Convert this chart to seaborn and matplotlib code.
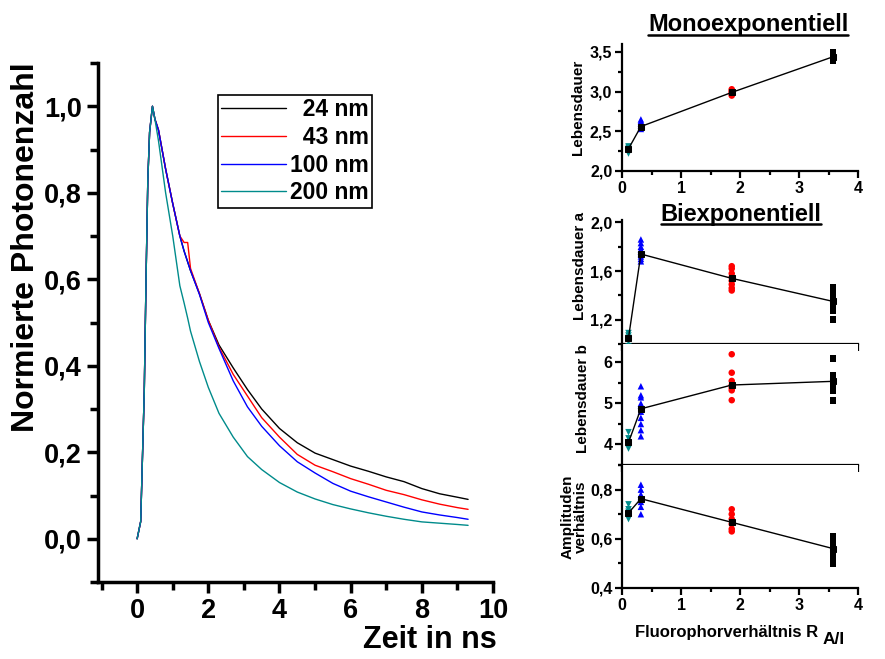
import numpy as np
import pandas as pd
import matplotlib
matplotlib.use('Agg')
import matplotlib.pyplot as plt
import seaborn as sns
from matplotlib.ticker import MultipleLocator, FuncFormatter
from matplotlib.lines import Line2D

sns.set_theme(style='ticks')
plt.rcParams['font.family'] = ['Liberation Sans', 'DejaVu Sans']
plt.rcParams['font.weight'] = 'bold'
plt.rcParams['axes.edgecolor'] = 'black'
plt.rcParams['xtick.color'] = 'black'
plt.rcParams['ytick.color'] = 'black'
plt.rcParams['text.color'] = 'black'
plt.rcParams['axes.labelcolor'] = 'black'

# ---------------- data: decay curves ----------------
time_ns = [0, 0.1, 0.2, 0.25, 0.3, 0.35, 0.43, 0.5, 0.6, 0.8, 1.0, 1.2, 1.32, 1.42,
           1.5, 1.75, 2.0, 2.3, 2.7, 3.1, 3.5, 4.0, 4.5, 5.0, 5.5, 6.0, 6.5, 7.0,
           7.5, 8.0, 8.5, 9.0, 9.3]
curve_24nm = [0, 0.04, 0.34, 0.60, 0.83, 0.94, 1.0, 0.97, 0.945, 0.855, 0.775, 0.70, 0.665, 0.64,
              0.62, 0.567, 0.505, 0.448, 0.395, 0.345, 0.30, 0.255, 0.222, 0.198, 0.183, 0.168,
              0.156, 0.143, 0.132, 0.116, 0.104, 0.096, 0.091]
curve_43nm = [0, 0.04, 0.34, 0.60, 0.83, 0.94, 1.0, 0.97, 0.945, 0.855, 0.775, 0.70, 0.685, 0.685,
              0.625, 0.567, 0.505, 0.443, 0.38, 0.33, 0.28, 0.235, 0.195, 0.17, 0.155, 0.139,
              0.126, 0.112, 0.102, 0.09, 0.08, 0.072, 0.068]
curve_100nm = [0, 0.04, 0.34, 0.60, 0.83, 0.94, 1.0, 0.97, 0.945, 0.855, 0.775, 0.70, 0.665, 0.64,
               0.62, 0.565, 0.50, 0.44, 0.365, 0.305, 0.26, 0.215, 0.178, 0.152, 0.128, 0.11,
               0.097, 0.085, 0.073, 0.062, 0.055, 0.049, 0.045]
curve_200nm = [0, 0.04, 0.34, 0.60, 0.83, 0.94, 1.0, 0.97, 0.92, 0.80, 0.70, 0.585, 0.545, 0.51,
               0.48, 0.41, 0.35, 0.29, 0.235, 0.19, 0.16, 0.13, 0.108, 0.092, 0.079, 0.069,
               0.06, 0.052, 0.045, 0.039, 0.036, 0.033, 0.031]
curve_labels = ['24 nm', '43 nm', '100 nm', '200 nm']
curve_colors = ['black', '#ff0000', '#0000ff', '#008b8b']

# ---------------- data: lifetime panels ----------------
group_names = ['200 nm', '100 nm', '43 nm', '24 nm']
group_ratio = [0.11, 0.32, 1.86, 3.58]
group_colors = ['#008b8b', '#0000ff', '#ff0000', 'black']
group_markers = ['v', '^', 'o', 's']

mono_points = [[2.22, 2.25, 2.27, 2.29, 2.31],
               [2.53, 2.55, 2.57, 2.60, 2.63, 2.65],
               [2.95, 2.97, 2.99, 3.01, 3.03],
               [3.39, 3.41, 3.43, 3.45, 3.47, 3.49]]
mono_mean = [2.28, 2.56, 2.99, 3.44]

tau_a_points = [[0.98, 1.02, 1.05, 1.07, 1.09],
                [1.68, 1.70, 1.72, 1.74, 1.76, 1.78, 1.80, 1.83, 1.86],
                [1.44, 1.46, 1.49, 1.52, 1.55, 1.58, 1.62, 1.64],
                [1.20, 1.27, 1.31, 1.33, 1.35, 1.37, 1.39, 1.42, 1.47]]
tau_a_mean = [1.05, 1.74, 1.54, 1.35]

tau_b_points = [[3.9, 3.95, 4.05, 4.15, 4.3],
                [4.2, 4.35, 4.5, 4.65, 4.8, 4.95, 5.0, 5.15, 5.2, 5.42],
                [5.08, 5.32, 5.38, 5.45, 5.55, 5.75, 6.2],
                [5.07, 5.3, 5.4, 5.5, 5.55, 5.6, 5.65, 5.7, 6.1]]
tau_b_mean = [4.05, 4.87, 5.45, 5.54]

amp_points = [[0.68, 0.69, 0.70, 0.71, 0.72, 0.74],
              [0.70, 0.73, 0.75, 0.77, 0.78, 0.80, 0.82],
              [0.63, 0.64, 0.66, 0.68, 0.70, 0.72],
              [0.50, 0.52, 0.54, 0.56, 0.57, 0.58, 0.61]]
amp_mean = [0.705, 0.763, 0.667, 0.56]

comma0 = FuncFormatter(lambda v, p: '%d' % round(v))
comma1 = FuncFormatter(lambda v, p: ('%.1f' % v).replace('.', ','))

W, H = 885, 659
fig = plt.figure(figsize=(W / 100, H / 100), dpi=100)


def px_axes(l, t, r, b):
    return fig.add_axes([l / W, 1 - b / H, (r - l) / W, (b - t) / H])


# ---------------- left panel ----------------
ax = px_axes(98, 63, 493, 582)
df = pd.DataFrame({
    't': np.tile(time_ns, 4),
    'v': np.concatenate([curve_24nm, curve_43nm, curve_100nm, curve_200nm]),
    'sample': np.repeat(curve_labels, len(time_ns)),
})
sns.lineplot(data=df, x='t', y='v', hue='sample', palette=dict(zip(curve_labels, curve_colors)),
             estimator=None, sort=False, lw=1.0, ax=ax, legend=False)
ax.set_xlim(-1.1, 10)
ax.set_ylim(-0.1, 1.1)
ax.xaxis.set_major_locator(MultipleLocator(2))
ax.xaxis.set_minor_locator(MultipleLocator(1))
ax.yaxis.set_major_locator(MultipleLocator(0.2))
ax.yaxis.set_minor_locator(MultipleLocator(0.1))
ax.yaxis.set_major_formatter(comma1)
ax.xaxis.set_major_formatter(comma0)
for s in ['top', 'right']:
    ax.spines[s].set_visible(False)
for s in ['left', 'bottom']:
    ax.spines[s].set_linewidth(2.5)
ax.tick_params(which='major', length=8, width=2.5, labelsize=19.5, direction='out')
ax.tick_params(which='minor', length=6, width=2.5, direction='out')
ax.set_xlabel('')
ax.set_ylabel('Normierte Photonenzahl', fontsize=23, fontweight='bold')
ax.yaxis.set_label_coords(-0.145, 0.645)
for lab in ax.get_xticklabels() + ax.get_yticklabels():
    lab.set_fontweight('bold')
fig.text(497 / W, 1 - 640 / H, 'Zeit in ns', ha='right', va='center', fontsize=22, fontweight='bold')

handles = [Line2D([], [], color=c, lw=1.0) for c in curve_colors]
leg_labels = ['  24 nm', '  43 nm', '100 nm', '200 nm']
leg = ax.legend(handles, leg_labels, loc='upper left',
                bbox_to_anchor=((218 - 98) / 395, 1 - (95 - 63) / 519), borderaxespad=0,
                frameon=True, fancybox=False, framealpha=1, edgecolor='black', handlelength=2.8,
                handletextpad=0.17, borderpad=0.15, labelspacing=0.2,
                prop={'size': 16.5, 'weight': 'bold'})
leg.get_frame().set_linewidth(1.2)

# ---------------- right panels ----------------
def panel(axr, points, means, ylim, major, minor, fmt, ylabel, show_xlabels):
    rows = []
    for name, xr, pts in zip(group_names, group_ratio, points):
        for p in pts:
            rows.append({'ratio': xr, 'val': p, 'group': name})
    d = pd.DataFrame(rows)
    sns.scatterplot(data=d, x='ratio', y='val', hue='group', style='group',
                    palette=dict(zip(group_names, group_colors)),
                    markers=dict(zip(group_names, group_markers)),
                    s=22, edgecolor='none', ax=axr, legend=False, clip_on=False, zorder=3)
    dm = pd.DataFrame({'ratio': group_ratio, 'val': means})
    sns.lineplot(data=dm, x='ratio', y='val', color='black', lw=1.0, marker='s', markersize=4.5,
                 markeredgecolor='black', ax=axr, sort=False, zorder=4)
    axr.set_xlim(0, 4)
    axr.set_ylim(*ylim)
    axr.xaxis.set_major_locator(MultipleLocator(1))
    axr.xaxis.set_minor_locator(MultipleLocator(0.5))
    axr.yaxis.set_major_locator(MultipleLocator(major))
    axr.yaxis.set_minor_locator(MultipleLocator(minor))
    axr.yaxis.set_major_formatter(fmt)
    axr.xaxis.set_major_formatter(comma0)
    for s in ['top', 'right']:
        axr.spines[s].set_visible(False)
    for s in ['left', 'bottom']:
        axr.spines[s].set_linewidth(1.6)
    axr.tick_params(which='major', length=5, width=1.6, labelsize=11.5, direction='out', pad=2)
    axr.tick_params(which='minor', length=3, width=1.6, direction='out')
    if not show_xlabels:
        axr.tick_params(axis='x', labelbottom=False)
    axr.set_xlabel('')
    axr.set_ylabel(ylabel, fontsize=11, fontweight='bold', linespacing=0.95)
    for lab in axr.get_xticklabels() + axr.get_yticklabels():
        lab.set_fontweight('bold')


ax1 = px_axes(622, 44, 858, 171)
panel(ax1, mono_points, mono_mean, (2.0, 3.6), 0.5, 0.25, comma1, 'Lebensdauer', True)
ax1.yaxis.set_label_coords(-0.155, 0.5)

ax2 = px_axes(622, 220, 858, 344)
panel(ax2, tau_a_points, tau_a_mean, (1.0, 2.02), 0.4, 0.2, comma1, 'Lebensdauer a', False)
ax2.yaxis.set_label_coords(-0.15, 0.63)

ax3 = px_axes(622, 344, 858, 465)
panel(ax3, tau_b_points, tau_b_mean, (3.5, 6.45), 1, 0.5, comma0, 'Lebensdauer b', False)
ax3.yaxis.set_label_coords(-0.135, 0.55)

ax4 = px_axes(622, 465, 858, 588)
panel(ax4, amp_points, amp_mean, (0.4, 0.9), 0.2, 0.1, comma1, 'Amplituden\nverhältnis', True)
ax4.yaxis.set_label_coords(-0.145, 0.58)

fig.text(818 / W, 1 - 632 / H, 'Fluorophorverhältnis R', ha='right', va='center',
         fontsize=12, fontweight='bold')
fig.text(823 / W, 1 - 640 / H, 'A/I', ha='left', va='center', fontsize=12.5, fontweight='bold')

t1 = fig.text(748 / W, 1 - 24 / H, 'Monoexponentiell', ha='center', va='center', fontsize=17, fontweight='bold')
t2 = fig.text(741 / W, 1 - 214 / H, 'Biexponentiell', ha='center', va='center', fontsize=17, fontweight='bold')

fig.canvas.draw()
r = fig.canvas.get_renderer()
for t in (t1, t2):
    bb = t.get_window_extent(r)
    y = (bb.y0 + 1) / H
    fig.add_artist(Line2D([bb.x0 / W, bb.x1 / W], [y, y], color='black', lw=1.8))

fig.savefig('out.png', dpi=100)
